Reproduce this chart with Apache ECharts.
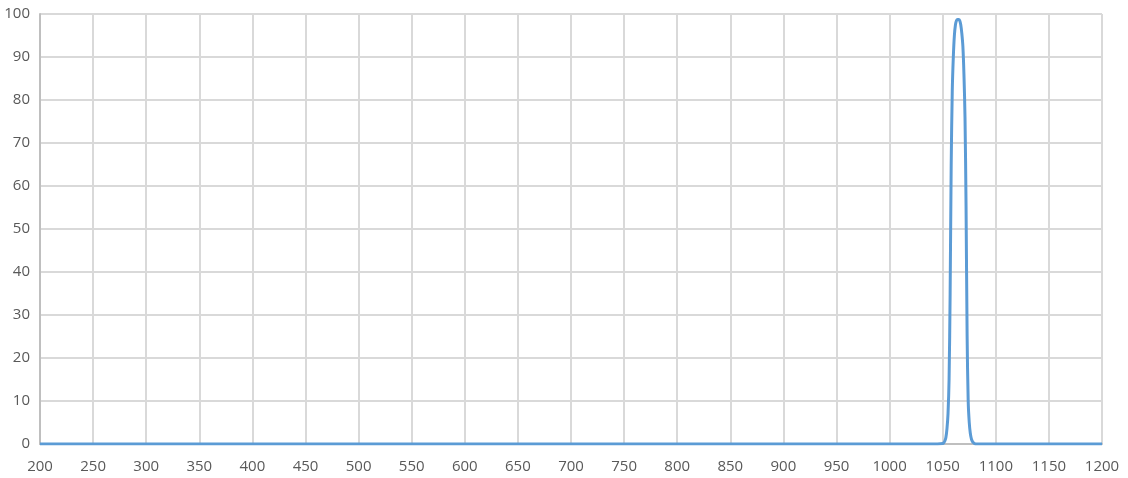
<!DOCTYPE html>
<html>
<head>
<meta charset="utf-8">
<script src="https://cdn.jsdelivr.net/npm/echarts@6/dist/echarts.min.js"></script>
<style>
  html, body { margin: 0; padding: 0; background: #fff; }
  #chart { width: 1128px; height: 478px; }
</style>
</head>
<body>
<div id="chart"></div>
<script>
// wavelength (nm) and transmission (%)
const wavelength = [200, 1045, 1050, 1051, 1052, 1053, 1054, 1055, 1056, 1057, 1058, 1059, 1060,
  1061, 1062, 1063, 1064, 1065, 1066, 1067, 1068, 1069, 1070, 1071, 1072, 1073, 1074, 1075,
  1076, 1077, 1078, 1079, 1080, 1082, 1090, 1200]
const transmission = [0, 0, 0.1, 0.3, 0.7, 1.5, 3.5, 7, 15, 35, 65, 82, 90,
  95, 97.5, 98.5, 98.7, 98.7, 98.5, 97.5, 95.5, 92.5, 86, 76, 55, 25, 10, 5,
  2.5, 1.2, 0.6, 0.3, 0.1, 0, 0, 0]

const xMin = 200
const xMax = 1200
const xStep = 50
const yMin = 0
const yMax = 100
const yStep = 10

const chartEl = document.getElementById('chart')
const chart = echarts.init(chartEl)

const points = wavelength.map((w, i) => [w, transmission[i]])

const labelStyle = {
  color: '#595959',
  fontFamily: 'Open Sans',
  fontSize: 15,
  formatter: (v) => String(v)
}
const gridLine = { show: true, lineStyle: { color: '#d9d9d9', width: 2 } }

chart.setOption({
  animation: false,
  grid: { left: 40, right: 26, top: 14, bottom: 34, containLabel: false },
  xAxis: {
    type: 'value',
    min: xMin,
    max: xMax,
    interval: xStep,
    axisLine: { show: true, lineStyle: { color: '#bfbfbf', width: 2 } },
    axisTick: { show: false },
    axisLabel: Object.assign({ margin: 15 }, labelStyle),
    splitLine: gridLine
  },
  yAxis: {
    type: 'value',
    min: yMin,
    max: yMax,
    interval: yStep,
    axisLine: { show: true, lineStyle: { color: '#bfbfbf', width: 2 } },
    axisTick: { show: false },
    axisLabel: Object.assign({ margin: 10 }, labelStyle),
    splitLine: gridLine
  },
  series: [{
    type: 'line',
    data: points,
    smooth: 0.3,
    showSymbol: false,
    lineStyle: { color: '#5b9bd5', width: 3 }
  }]
})
</script>
</body>
</html>
